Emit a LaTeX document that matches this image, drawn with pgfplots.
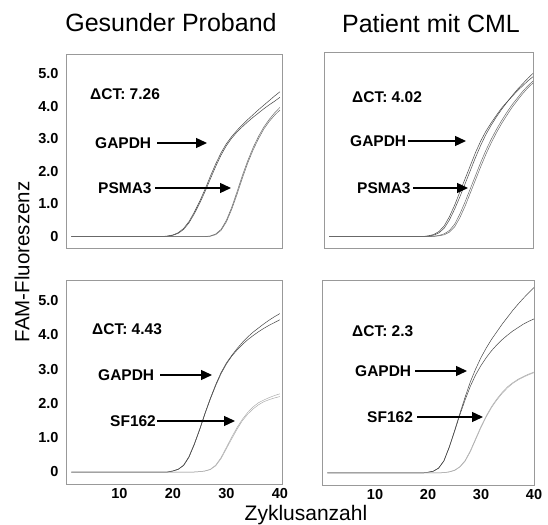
\documentclass[border=0pt]{standalone}
\usepackage{fontspec}
\setmainfont{Liberation Sans}
\usepackage{pgfplots}
\usepackage{pgfplotstable}
\pgfplotsset{compat=1.18}
\usetikzlibrary{arrows.meta}

% qPCR amplification curves, two replicates per gene
% columns: cycle, reference gene (2x), target gene (2x)
\pgfplotstableread{
c   gA    gB    tA    tB
1   0     0     0     0
2   0     0     0     0
3   0     0     0     0
4   0     0     0     0
5   0     0     0     0
6   0     0     0     0
7   0     0     0     0
8   0     0     0     0
9   0     0     0     0
10  0     0     0     0
11  0     0     0     0
12  0     0     0     0
13  0     0     0     0
14  0     0     0     0
15  0     0     0     0
16  0     0     0     0
17  0     0     0     0
18  0     0     0     0
19  0.02  0.01  0     0
20  0.05  0.04  0     0
21  0.12  0.10  0     0
22  0.25  0.22  0     0
23  0.46  0.42  0     0
24  0.75  0.70  0     0
25  1.08  1.02  0     0
26  1.45  1.38  0     0
27  1.85  1.77  0.02  0.01
28  2.23  2.15  0.08  0.06
29  2.57  2.50  0.22  0.19
30  2.85  2.79  0.50  0.45
31  3.07  3.02  0.90  0.84
32  3.26  3.21  1.38  1.30
33  3.43  3.37  1.88  1.80
34  3.59  3.52  2.33  2.26
35  3.74  3.66  2.73  2.66
36  3.89  3.79  3.07  3.00
37  4.03  3.92  3.36  3.30
38  4.17  4.04  3.59  3.53
39  4.31  4.15  3.79  3.72
40  4.44  4.27  3.96  3.88
}\gesundPSMA

\pgfplotstableread{
c   gA    gB    tA    tB
1   0     0     0     0
2   0     0     0     0
3   0     0     0     0
4   0     0     0     0
5   0     0     0     0
6   0     0     0     0
7   0     0     0     0
8   0     0     0     0
9   0     0     0     0
10  0     0     0     0
11  0     0     0     0
12  0     0     0     0
13  0     0     0     0
14  0     0     0     0
15  0     0     0     0
16  0     0     0     0
17  0     0     0     0
18  0     0     0     0
19  0     0     0     0
20  0.02  0.01  0     0
21  0.06  0.04  0.01  0
22  0.15  0.11  0.03  0.02
23  0.32  0.25  0.08  0.05
24  0.60  0.50  0.18  0.13
25  0.95  0.83  0.37  0.29
26  1.35  1.20  0.68  0.57
27  1.75  1.60  1.05  0.92
28  2.15  2.00  1.45  1.32
29  2.55  2.40  1.85  1.72
30  2.90  2.77  2.25  2.12
31  3.20  3.10  2.62  2.50
32  3.45  3.38  2.95  2.84
33  3.68  3.63  3.25  3.15
34  3.90  3.86  3.52  3.43
35  4.08  4.07  3.77  3.68
36  4.25  4.27  4.00  3.92
37  4.42  4.46  4.20  4.13
38  4.57  4.63  4.40  4.33
39  4.72  4.80  4.57  4.51
40  4.85  4.95  4.72  4.66
}\cmlPSMA

\pgfplotstableread{
c   gA    gB    tA    tB
1   0     0     0     0
2   0     0     0     0
3   0     0     0     0
4   0     0     0     0
5   0     0     0     0
6   0     0     0     0
7   0     0     0     0
8   0     0     0     0
9   0     0     0     0
10  0     0     0     0
11  0     0     0     0
12  0     0     0     0
13  0     0     0     0
14  0     0     0     0
15  0     0     0     0
16  0     0     0     0
17  0     0     0     0
18  0     0     0     0
19  0     0     0     0
20  0.03  0.03  0     0
21  0.08  0.08  0     0
22  0.20  0.19  0     0
23  0.45  0.43  0     0
24  0.82  0.80  0     0
25  1.25  1.23  0.01  0.01
26  1.72  1.70  0.03  0.03
27  2.15  2.13  0.08  0.07
28  2.55  2.52  0.20  0.18
29  2.90  2.87  0.42  0.39
30  3.18  3.15  0.72  0.68
31  3.40  3.38  1.02  0.97
32  3.60  3.56  1.30  1.25
33  3.78  3.72  1.54  1.50
34  3.94  3.86  1.74  1.69
35  4.08  3.98  1.90  1.84
36  4.20  4.09  2.02  1.96
37  4.32  4.19  2.10  2.05
38  4.43  4.28  2.17  2.11
39  4.53  4.36  2.23  2.16
40  4.62  4.44  2.28  2.20
}\gesundSF

\pgfplotstableread{
c   gA    gB    tA    tB
1   0     0     0     0
2   0     0     0     0
3   0     0     0     0
4   0     0     0     0
5   0     0     0     0
6   0     0     0     0
7   0     0     0     0
8   0     0     0     0
9   0     0     0     0
10  0     0     0     0
11  0     0     0     0
12  0     0     0     0
13  0     0     0     0
14  0     0     0     0
15  0     0     0     0
16  0     0     0     0
17  0     0     0     0
18  0     0     0     0
19  0     0     0     0
20  0.02  0.02  0     0
21  0.05  0.05  0     0
22  0.14  0.14  0     0
23  0.35  0.35  0.01  0.01
24  0.75  0.74  0.03  0.03
25  1.22  1.20  0.08  0.07
26  1.72  1.68  0.18  0.17
27  2.20  2.12  0.36  0.34
28  2.65  2.52  0.65  0.62
29  3.02  2.85  1.00  0.97
30  3.35  3.12  1.35  1.32
31  3.63  3.35  1.66  1.63
32  3.88  3.55  1.93  1.90
33  4.10  3.72  2.15  2.12
34  4.32  3.87  2.34  2.31
35  4.52  4.00  2.50  2.47
36  4.72  4.12  2.62  2.60
37  4.90  4.22  2.72  2.70
38  5.07  4.32  2.80  2.78
39  5.23  4.40  2.87  2.85
40  5.38  4.47  2.93  2.91
}\cmlSF

\pgfplotsset{
  panel/.style={
    scale only axis,
    xmin=0, ymin=-0.35, ymax=5.6,
    axis line style={draw=black!40, line width=0.8pt},
    major tick length=0pt,
    xtick=\empty, ytick=\empty,
    ticklabel style={font=\bfseries\fontsize{14.5}{16}\selectfont, text=black},
    yticklabel style={xshift=-4pt},
    xticklabel style={yshift=-1pt},
  },
  yvalues/.style={ytick={0,1,2,3,4,5}, yticklabels={0,1.0,2.0,3.0,4.0,5.0}},
  xvalues/.style={xtick={10,20,30,40}, xticklabels={10,20,30,40}},
  ref/.style={black!72, line width=0.5pt},
  psma/.style={black!58, line width=0.5pt},
  sf/.style={black!32, line width=0.5pt},
}

\tikzset{
  lab/.style={anchor=west, inner sep=0pt, font=\bfseries\fontsize{15.5}{17}\selectfont},
  arr/.style={line width=1.3pt, -{Triangle[length=11pt, width=10pt]}},
}

\begin{document}
\begin{tikzpicture}
\path[use as bounding box] (0pt,0pt) rectangle (548pt,524pt);

% top left: healthy donor, GAPDH vs PSMA3
\begin{axis}[panel, yvalues, xmax=40.4, width=216pt, height=194pt,
  at={(66pt,276pt)}, anchor=south west]
  \addplot[ref, no markers] table[x=c, y=gA] {\gesundPSMA};
  \addplot[ref, no markers] table[x=c, y=gB] {\gesundPSMA};
  \addplot[psma, no markers] table[x=c, y=tA] {\gesundPSMA};
  \addplot[psma, no markers] table[x=c, y=tB] {\gesundPSMA};
\end{axis}

% top right: CML patient, GAPDH vs PSMA3
\begin{axis}[panel, xmax=40, width=209pt, height=196pt,
  at={(324pt,276pt)}, anchor=south west]
  \addplot[ref, no markers] table[x=c, y=gA] {\cmlPSMA};
  \addplot[ref, no markers] table[x=c, y=gB] {\cmlPSMA};
  \addplot[psma, no markers] table[x=c, y=tA] {\cmlPSMA};
  \addplot[psma, no markers] table[x=c, y=tB] {\cmlPSMA};
\end{axis}

% bottom left: healthy donor, GAPDH vs SF162
\begin{axis}[panel, yvalues, xvalues, xmax=40.4, width=216pt, height=204pt,
  at={(66pt,40pt)}, anchor=south west]
  \addplot[ref, no markers] table[x=c, y=gA] {\gesundSF};
  \addplot[ref, no markers] table[x=c, y=gB] {\gesundSF};
  \addplot[sf, no markers] table[x=c, y=tA] {\gesundSF};
  \addplot[sf, no markers] table[x=c, y=tB] {\gesundSF};
\end{axis}

% bottom right: CML patient, GAPDH vs SF162
\begin{axis}[panel, xvalues, xmax=40, width=212pt, height=205pt,
  at={(322pt,39pt)}, anchor=south west]
  \addplot[ref, no markers] table[x=c, y=gA] {\cmlSF};
  \addplot[ref, no markers] table[x=c, y=gB] {\cmlSF};
  \addplot[sf, no markers] table[x=c, y=tA] {\cmlSF};
  \addplot[sf, no markers] table[x=c, y=tB] {\cmlSF};
\end{axis}

% column titles
\node[anchor=base, inner sep=0pt, font=\fontsize{25}{29}\selectfont] at (171pt,492pt) {Gesunder Proband};
\node[anchor=base, inner sep=0pt, font=\fontsize{25}{29}\selectfont] at (431pt,491pt) {Patient mit CML};

% shared axis titles
\node[rotate=90, inner sep=0pt, font=\fontsize{20.5}{24}\selectfont] at (22pt,262pt) {FAM-Fluoreszenz};
\node[anchor=base, inner sep=0pt, font=\fontsize{21}{25}\selectfont] at (306pt,3pt) {Zyklusanzahl};

% annotations, top left
\node[lab] at (90pt,430pt) {ΔCT: 7.26};
\node[lab] at (95pt,381pt) {GAPDH};
\draw[arr] (157pt,381pt) -- (207pt,381pt);
\node[lab] at (98pt,336pt) {PSMA3};
\draw[arr] (155pt,336pt) -- (231pt,336pt);

% annotations, top right
\node[lab] at (352pt,427pt) {ΔCT: 4.02};
\node[lab] at (350pt,383pt) {GAPDH};
\draw[arr] (408pt,383pt) -- (466pt,383pt);
\node[lab] at (357pt,336pt) {PSMA3};
\draw[arr] (413pt,336pt) -- (468pt,336pt);

% annotations, bottom left
\node[lab] at (92pt,195pt) {ΔCT: 4.43};
\node[lab] at (98pt,149pt) {GAPDH};
\draw[arr] (160pt,149pt) -- (212pt,149pt);
\node[lab] at (110pt,103pt) {SF162};
\draw[arr] (157pt,103pt) -- (235pt,103pt);

% annotations, bottom right
\node[lab] at (352pt,193pt) {ΔCT: 2.3};
\node[lab] at (355pt,153pt) {GAPDH};
\draw[arr] (415pt,153pt) -- (467pt,153pt);
\node[lab] at (367pt,107pt) {SF162};
\draw[arr] (417pt,107pt) -- (483pt,107pt);
\end{tikzpicture}
\end{document}
